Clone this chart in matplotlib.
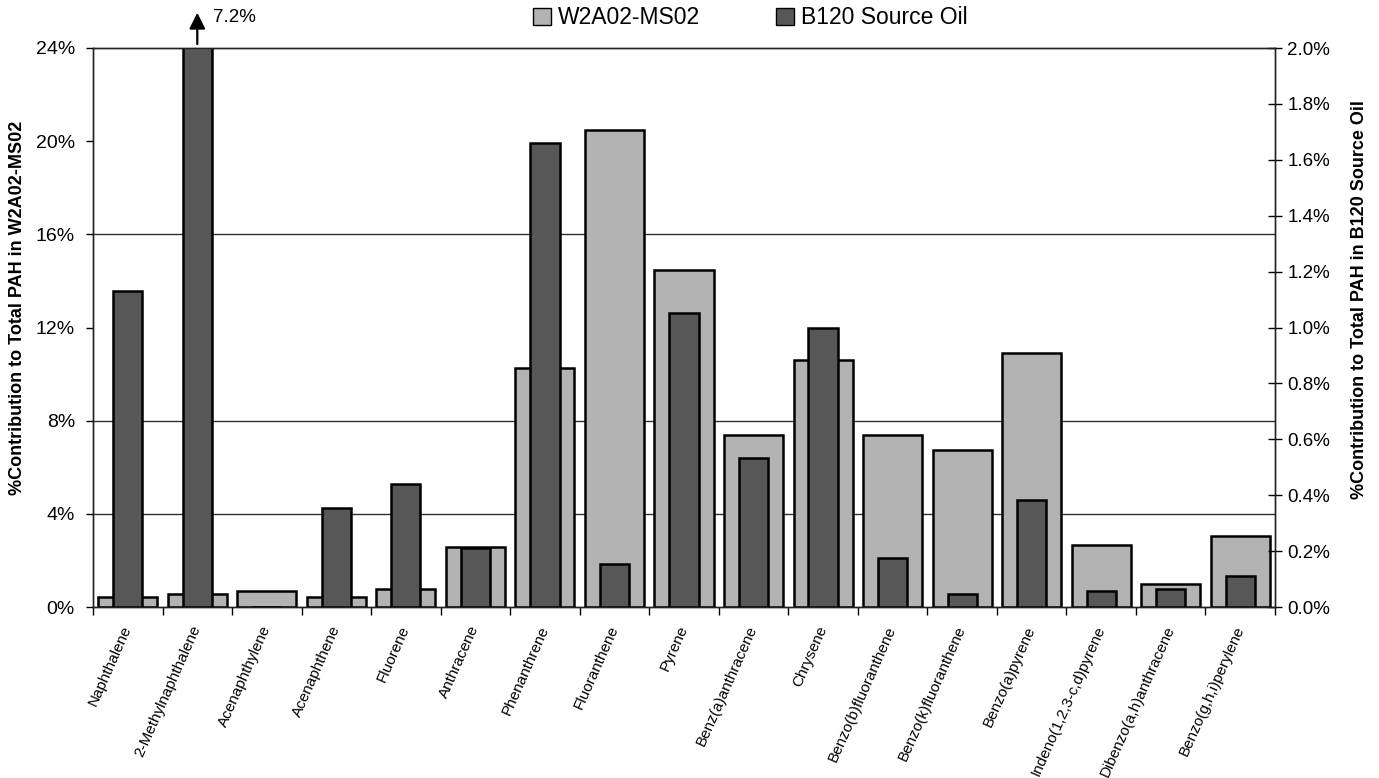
import matplotlib
matplotlib.use("Agg")
import matplotlib.pyplot as plt
import numpy as np
from matplotlib.patches import Patch
from matplotlib.ticker import FuncFormatter, FixedLocator

plt.rcParams['font.family'] = ['Liberation Sans', 'DejaVu Sans']

categories = ["Naphthalene", "2-Methylnaphthalene", "Acenaphthylene", "Acenaphthene",
              "Fluorene", "Anthracene", "Phenanthrene", "Fluoranthene", "Pyrene",
              "Benz(a)anthracene", "Chrysene", "Benzo(b)fluoranthene",
              "Benzo(k)fluoranthene", "Benzo(a)pyrene", "Indeno(1,2,3-c,d)pyrene",
              "Dibenzo(a,h)anthracene", "Benzo(g,h,i)perylene"]

# % contribution to total PAH in W2A02-MS02 (left axis)
w2a02 = [0.45, 0.56, 0.70, 0.43, 0.76, 2.56, 10.25, 20.5, 14.45, 7.38, 10.6,
         7.38, 6.74, 10.92, 2.65, 0.99, 3.05]
# % contribution to total PAH in B120 Source Oil (right axis)
b120 = [1.13, 7.2, 0.0, 0.353, 0.439, 0.21, 1.66, 0.154, 1.052, 0.532, 0.997,
        0.176, 0.046, 0.383, 0.058, 0.063, 0.111]

left_ticks = [0, 4, 8, 12, 16, 20, 24]
right_ticks = [0.0, 0.2, 0.4, 0.6, 0.8, 1.0, 1.2, 1.4, 1.6, 1.8, 2.0]
grid_levels = [4, 8, 16]

light = "#b3b3b3"
dark = "#575757"

fig = plt.figure(figsize=(13.79, 7.78), dpi=100)
ax = fig.add_axes([93/1379, 1-607/778, (1275-93)/1379, (607-48)/778])
ax2 = ax.twinx()

x = np.arange(len(categories))
for g in grid_levels:
    ax.axhline(g, color="#303030", lw=1.0, zorder=0)

ax.bar(x, w2a02, width=0.85, color=light, edgecolor="black", linewidth=1.8, zorder=2)
ax2.bar(x, b120, width=0.42, color=dark, edgecolor="black", linewidth=1.8, zorder=2)

ax.set_xlim(-0.5, len(categories) - 0.5)
ax.set_ylim(0, 24)
ax2.set_ylim(0, 2.0)

ax.set_yticks(left_ticks)
ax.yaxis.set_major_formatter(FuncFormatter(lambda v, p: f"{v:.0f}%"))
ax2.set_yticks(right_ticks)
ax2.yaxis.set_major_formatter(FuncFormatter(lambda v, p: f"{v:.1f}%"))

ax.tick_params(axis='y', labelsize=14, length=5, width=1, direction='out', pad=8)
ax2.tick_params(axis='y', labelsize=13.5, length=10, width=1, direction='inout', pad=4)

ax.set_xticks(x)
ax.set_xticklabels(categories, rotation=66, ha='right', va='center',
                   rotation_mode='anchor', fontsize=11)
ax.tick_params(axis='x', which='major', length=0, pad=14)
ax.xaxis.set_minor_locator(FixedLocator(np.arange(-0.5, len(categories), 1.0)))
ax.tick_params(axis='x', which='minor', length=6, width=1, direction='out')

for a in (ax, ax2):
    for s in a.spines.values():
        s.set_color("#222222")
        s.set_linewidth(1.0)

ax.set_ylabel("%Contribution to Total PAH in W2A02-MS02", fontsize=13,
              fontweight='bold')
ax.yaxis.set_label_coords((26 - 93) / 1182, (607 - 308) / 559)
ax2.set_ylabel("%Contribution to Total PAH in B120 Source Oil", fontsize=13,
               fontweight='bold', rotation=90)
ax2.yaxis.set_label_coords((1351 - 93) / 1182, (607 - 300) / 559)

# off-scale marker for 2-Methylnaphthalene
ax2.annotate("", xy=(1, 1.068), xycoords=('data', 'axes fraction'),
             xytext=(1, 1.002), textcoords=('data', 'axes fraction'),
             arrowprops=dict(arrowstyle='-|>', color='black', lw=1.6,
                             mutation_scale=24), annotation_clip=False)
ax2.annotate(f"{b120[1]:.1f}%", xy=(1, 1.055), xycoords=('data', 'axes fraction'),
             xytext=(11, 0), textcoords='offset points', fontsize=13.5,
             va='center', ha='left', annotation_clip=False)

handles = [Patch(facecolor=light, edgecolor='black', linewidth=1.0, label="W2A02-MS02"),
           Patch(facecolor=dark, edgecolor='black', linewidth=1.0, label="B120 Source Oil")]
fig.legend(handles=handles, loc='center', bbox_to_anchor=(750 / 1379, 0.977), ncol=2,
           frameon=False, fontsize=16.5, handlelength=0.8, handleheight=0.8,
           handletextpad=0.3, columnspacing=3.3, borderaxespad=0)

fig.savefig("out.png", dpi=100)
